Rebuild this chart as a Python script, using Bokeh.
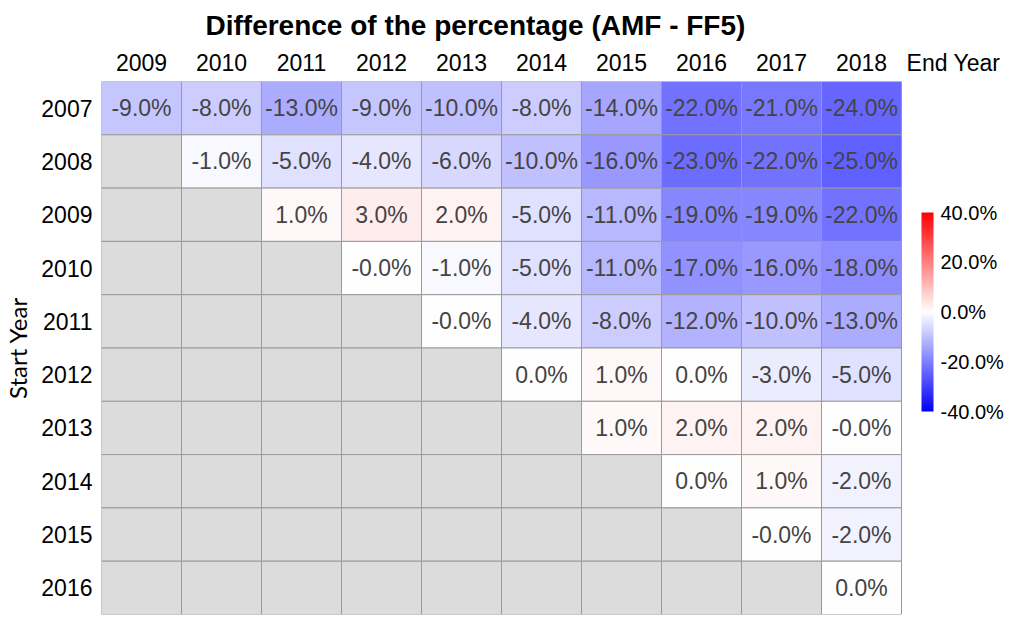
import numpy as np
from bokeh.plotting import figure
from bokeh.models import (ColumnDataSource, LinearColorMapper, ColorBar, FixedTicker,
                          PrintfTickFormatter, FactorRange, Range1d)
from bokeh.core.properties import value
from bokeh.embed import file_html
from bokeh.resources import INLINE

# ---------------- data ----------------
start_years = ["2007", "2008", "2009", "2010", "2011", "2012", "2013", "2014", "2015", "2016"]
end_years = [2009, 2010, 2011, 2012, 2013, 2014, 2015, 2016, 2017, 2018]
NA = float("nan")
# difference (AMF - FF5) in percent, one list per start year, columns = end years
diff_2007 = [-9.0, -8.0, -13.0, -9.0, -10.0, -8.0, -14.0, -22.0, -21.0, -24.0]
diff_2008 = [NA, -1.0, -5.0, -4.0, -6.0, -10.0, -16.0, -23.0, -22.0, -25.0]
diff_2009 = [NA, NA, 1.0, 3.0, 2.0, -5.0, -11.0, -19.0, -19.0, -22.0]
diff_2010 = [NA, NA, NA, -0.0, -1.0, -5.0, -11.0, -17.0, -16.0, -18.0]
diff_2011 = [NA, NA, NA, NA, -0.0, -4.0, -8.0, -12.0, -10.0, -13.0]
diff_2012 = [NA, NA, NA, NA, NA, 0.0, 1.0, 0.0, -3.0, -5.0]
diff_2013 = [NA, NA, NA, NA, NA, NA, 1.0, 2.0, 2.0, -0.0]
diff_2014 = [NA, NA, NA, NA, NA, NA, NA, 0.0, 1.0, -2.0]
diff_2015 = [NA, NA, NA, NA, NA, NA, NA, NA, -0.0, -2.0]
diff_2016 = [NA, NA, NA, NA, NA, NA, NA, NA, NA, 0.0]
rows = [diff_2007, diff_2008, diff_2009, diff_2010, diff_2011,
        diff_2012, diff_2013, diff_2014, diff_2015, diff_2016]
color_ticks = [-40, -20, 0, 20, 40]
x_axis_name = "End Year"
y_axis_name = "Start Year"
title_text = "Difference of the percentage (AMF - FF5)"

xs, ys, vals = [], [], []
for sy, row in zip(start_years, rows):
    for ey, v in zip(end_years, row):
        xs.append(ey); ys.append(sy); vals.append(v)
vals = np.array(vals, dtype=float)
src = ColumnDataSource(dict(x=xs, y=ys, v=vals))

mask = ~np.isnan(vals)
txt_src = ColumnDataSource(dict(
    x=[x for x, m in zip(xs, mask) if m],
    y=[y for y, m in zip(ys, mask) if m],
    t=["%.1f%%" % v for v in vals[mask]],
))

# bwr palette
def bwr(n=256):
    cols = []
    for i in range(n):
        t = i / (n - 1)
        if t < 0.5:
            r = g = 2 * t; b = 1.0
        else:
            r = 1.0; g = b = 2 * (1 - t)
        cols.append("#%02x%02x%02x" % (round(r * 255), round(g * 255), round(b * 255)))
    return cols

mapper = LinearColorMapper(palette=bwr(), low=-40, high=40, nan_color="#dcdcdc")

# frame: 101..1013 px wide at 80 px per year -> 11.4 years
x0 = end_years[0] - 0.5
p = figure(width=1013, height=628, output_backend="svg", toolbar_location=None,
           x_range=Range1d(x0, x0 + 11.4),
           y_range=FactorRange(factors=list(reversed(start_years)), range_padding=0),
           x_axis_location="above", title=title_text,
           min_border_left=101, min_border_top=81, min_border_right=0, min_border_bottom=14)
p.outline_line_color = None
p.grid.grid_line_color = None

p.title.align = "left"
p.title.offset = 104
p.title.text_font = "Liberation Sans"
p.title.text_font_style = "bold"
p.title.text_font_size = "28px"
p.title.text_color = "black"
p.title.standoff = 11

p.rect(x="x", y="y", width=1, height=1, source=src,
       fill_color={"field": "v", "transform": mapper},
       line_color="#9a9a9a", line_width=1)
p.text(x="x", y="y", text="t", source=txt_src, text_align="center", text_baseline="middle",
       text_font=value("Liberation Sans"), text_font_size="23px", text_color="#444444")

label_pos = end_years[-1] + 1.15
p.xaxis[0].ticker = FixedTicker(ticks=end_years + [label_pos])
p.xaxis[0].major_label_overrides = {**{y: str(y) for y in end_years}, label_pos: x_axis_name}

for ax in (p.xaxis[0], p.yaxis[0]):
    ax.axis_line_color = None
    ax.major_tick_line_color = None
    ax.minor_tick_line_color = None
    ax.major_tick_out = 0
    ax.major_tick_in = 0
    ax.major_label_text_font = "Liberation Sans"
    ax.major_label_text_font_size = "23px"
    ax.major_label_text_color = "black"
p.xaxis[0].major_label_standoff = 6
p.yaxis[0].major_label_standoff = 9
p.yaxis[0].axis_label = y_axis_name
p.yaxis[0].axis_label_text_font = "Lato"
p.yaxis[0].axis_label_text_font_size = "24px"
p.yaxis[0].axis_label_text_font_style = "normal"
p.yaxis[0].axis_label_text_color = "black"
p.yaxis[0].axis_label_standoff = 6

cb = ColorBar(color_mapper=mapper, width=12, height=199, location=(820, 203),
              ticker=FixedTicker(ticks=color_ticks),
              formatter=PrintfTickFormatter(format="%.1f%%"),
              major_label_text_font="Liberation Sans", major_label_text_font_size="20px",
              major_label_text_color="black",
              major_tick_line_color=None, major_tick_in=0, major_tick_out=0,
              label_standoff=7, bar_line_color=None, border_line_color=None,
              background_fill_alpha=0, padding=0)
p.add_layout(cb, "center")

open("out.html", "w").write(file_html(p, INLINE))
